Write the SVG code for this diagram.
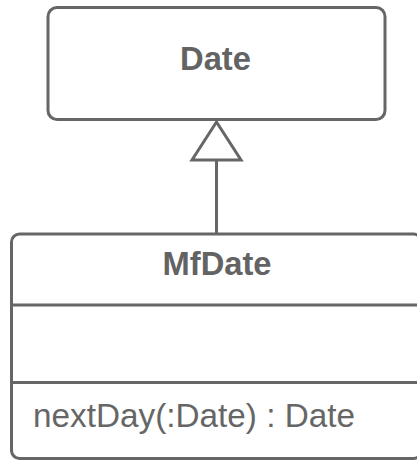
<svg xmlns="http://www.w3.org/2000/svg" width="417" height="461" viewBox="0 0 417 461">
<style>
.box{fill:#fff;stroke:#666;stroke-width:3}
.line{stroke:#666;stroke-width:3;fill:none}
.title{font-family:"Liberation Sans",Arial,sans-serif;font-weight:bold;font-size:32.7px;fill:#636363;text-anchor:middle}
.member{font-family:"Liberation Sans",Arial,sans-serif;font-size:33.3px;fill:#666}
</style>
<rect width="417" height="461" fill="#fff"/>
<g id="connectors">
<line class="line" x1="216.5" y1="160" x2="216.5" y2="234"/>
<polygon class="line" points="216.5,122 192,160 241,160" style="fill:#fff"/>
</g>
<g id="Date">
<rect class="box" x="48" y="7.5" width="337" height="112" rx="9"/>
<text class="title" x="215.5" y="70">Date</text>
</g>
<g id="MfDate">
<rect class="box" x="11.5" y="234" width="410" height="224.5" rx="8"/>
<line class="line" x1="11.5" y1="305" x2="421.5" y2="305"/>
<line class="line" x1="11.5" y1="382.5" x2="421.5" y2="382.5"/>
<text class="title" x="217" y="275">MfDate</text>
<text class="member" x="33" y="427">nextDay(:Date) : Date</text>
</g>
</svg>
